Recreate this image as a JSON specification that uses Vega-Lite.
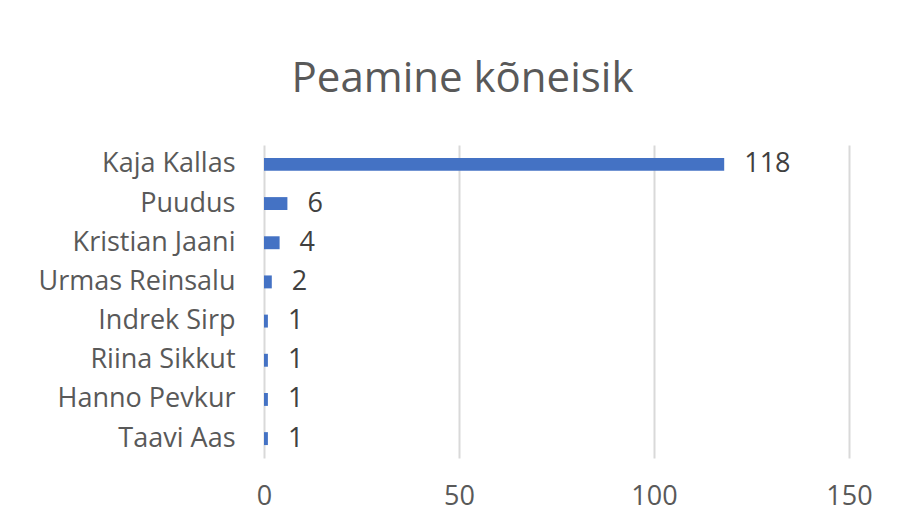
{
  "$schema": "https://vega.github.io/schema/vega-lite/v6.json",
  "autosize": {"type": "none"},
  "width": 585,
  "height": 313,
  "padding": {"left": 264, "top": 145, "right": 52, "bottom": 73},
  "background": "white",
  "title": {
    "text": "Peamine kõneisik",
    "font": "Open Sans",
    "fontSize": 42,
    "fontWeight": "normal",
    "color": "#595959",
    "anchor": "middle",
    "dx": -94,
    "offset": 44
  },
  "data": {
    "values": [
      {"name": "Kaja Kallas", "count": 118},
      {"name": "Puudus", "count": 6},
      {"name": "Kristian Jaani", "count": 4},
      {"name": "Urmas Reinsalu", "count": 2},
      {"name": "Indrek Sirp", "count": 1},
      {"name": "Riina Sikkut", "count": 1},
      {"name": "Hanno Pevkur", "count": 1},
      {"name": "Taavi Aas", "count": 1}
    ]
  },
  "encoding": {
    "y": {
      "field": "name",
      "type": "nominal",
      "sort": null,
      "scale": {"paddingInner": 0.67, "paddingOuter": 0.33},
      "axis": {
        "title": null,
        "ticks": false,
        "domain": false,
        "labelFont": "Open Sans",
        "labelFontSize": 27,
        "labelColor": "#595959",
        "labelPadding": 29,
        "labelLimit": 400
      }
    },
    "x": {
      "field": "count",
      "type": "quantitative",
      "scale": {"domain": [0, 150], "nice": false},
      "axis": {
        "title": null,
        "values": [0, 50, 100, 150],
        "ticks": false,
        "domain": false,
        "grid": true,
        "gridColor": "#d9d9d9",
        "gridWidth": 2,
        "labelFlush": false,
        "labelFont": "Open Sans",
        "labelFontSize": 27,
        "labelColor": "#595959",
        "labelPadding": 25
      }
    }
  },
  "layer": [
    {"mark": {"type": "bar", "color": "#4472C4"}},
    {
      "mark": {"type": "text", "align": "left", "baseline": "middle", "dx": 20, "font": "Open Sans", "fontSize": 27, "color": "#404040"},
      "encoding": {"text": {"field": "count", "type": "quantitative"}}
    }
  ],
  "config": {"view": {"stroke": null}}
}
